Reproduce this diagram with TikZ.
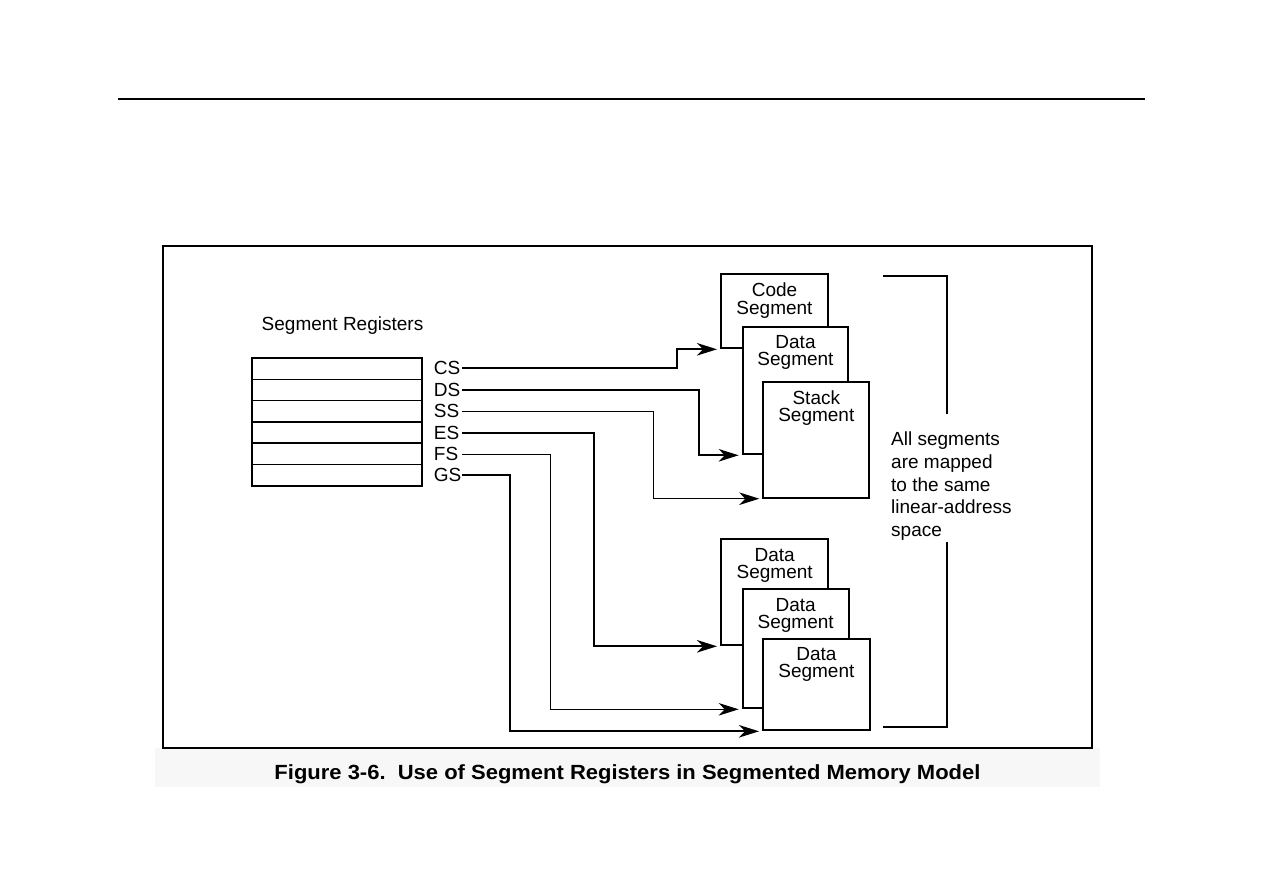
\documentclass[tikz,border=0pt]{standalone}
\usepackage{fontspec}
\setmainfont{Liberation Sans}
\usetikzlibrary{positioning,arrows.meta}

\begin{document}
\begin{tikzpicture}[
  x=1pt, y=-1pt,
  >={Stealth[length=20pt,width=12.5pt,inset=6pt]},
  regrow/.style={draw,line width=1pt,minimum width=170pt,minimum height=21.4pt,
                 inner sep=0pt,outer sep=0pt},
  reglabel/.style={font=\fontsize{19}{22}\selectfont,text width=27pt,align=left,
                   inner sep=1pt,anchor=west},
  segbox/.style={draw,line width=2pt,fill=white,inner sep=0pt,anchor=north west},
  seglabel/.style={anchor=north,align=center,inner xsep=2pt,inner ysep=9.5pt,
                   font=\fontsize{19}{17.3}\selectfont},
  bus/.style={->,line width=2pt},
  thinbus/.style={->,line width=1pt},
]
\useasboundingbox (0,0) rectangle (1263,893);

% page rule, figure frame and caption strip
\draw[line width=1.3pt] (118,99) -- (1145,99);
\fill[gray!6] (155,748) rectangle (1100,787);
\draw[line width=2pt,fill=white] (163,246) rectangle (1092,748);

\node[anchor=base,font=\fontsize{19}{22}\selectfont] (title) at (342.5,330.7)
  {Segment Registers};

% the register file
\node[regrow] (r1) at (336.7,368.4) {};
\node[regrow,below=0pt of r1] (r2) {};
\node[regrow,below=0pt of r2] (r3) {};
\node[regrow,below=0pt of r3] (r4) {};
\node[regrow,below=0pt of r4] (r5) {};
\node[regrow,below=0pt of r5] (r6) {};
\draw[line width=2.2pt] (r1.north west) rectangle (r6.south east);
\draw[line width=2pt] (r3.south west) -- (r3.south east);
\draw[line width=2pt] (r4.south west) -- (r4.south east);

\node[reglabel,right=11pt of r1] (cs) {CS};
\node[reglabel,right=11pt of r2] (ds) {DS};
\node[reglabel,right=11pt of r3] (ss) {SS};
\node[reglabel,right=11pt of r4] (es) {ES};
\node[reglabel,right=11pt of r5] (fs) {FS};
\node[reglabel,right=11pt of r6] (gs) {GS};

% upper stack of segments
\node[segbox,minimum width=107pt,minimum height=74pt,
      label={[seglabel]north:Code\\Segment}] (code) at (720,273.3) {};
\node[segbox,minimum width=105.6pt,minimum height=127.6pt,
      label={[seglabel]north:Data\\Segment}] (dseg) at (741.7,325.7) {};
\node[segbox,minimum width=106pt,minimum height=115.7pt,
      label={[seglabel]north:Stack\\Segment}] (stack) at (762.3,381) {};

% lower stack of segments
\node[segbox,minimum width=107.3pt,minimum height=106pt,
      label={[seglabel]north:Data\\Segment}] (dsega) at (720,538.3) {};
\node[segbox,minimum width=106pt,minimum height=119pt,
      label={[seglabel]north:Data\\Segment}] (dsegb) at (741.7,588.3) {};
\node[segbox,minimum width=106.7pt,minimum height=91.6pt,
      label={[seglabel]north:Data\\Segment}] (dsegc) at (762,637.7) {};

% register to segment
\draw[bus]     (cs.east) -- ++(215,0) |- ([xshift=-3pt]code.south west);
\draw[bus]     (ds.east) -- ++(237,0) |- ([xshift=-3pt]dseg.south west);
\draw[thinbus] (ss.east) -- ++(191,0) |- ([xshift=-3pt]stack.south west);
\draw[bus]     (es.east) -- ++(132,0) |- ([xshift=-3pt]dsega.south west);
\draw[thinbus] (fs.east) -- ++(88,0)  |- ([xshift=-3pt]dsegb.south west);
\draw[bus]     (gs.east) -- ++(48,0)  |- ([xshift=-3pt]dsegc.south west);

% the bracket and its note
\node[anchor=north west,align=left,inner sep=2pt,
      font=\fontsize{19}{22.7}\selectfont] (note) at (889,429.7)
  {All segments\\are mapped\\to the same\\linear-address\\space};
\draw[line width=2pt] (883,275.7) -| (947,414);
\draw[line width=2pt] (947,541.7) |- (883,726.7);

\node[anchor=base,font=\fontsize{20.5}{24}\selectfont\bfseries] (caption) at (627.5,779.5)
  {\resizebox{706pt}{\height}{Figure 3-6.\ \ Use of Segment Registers in Segmented Memory Model}};

\end{tikzpicture}
\end{document}
